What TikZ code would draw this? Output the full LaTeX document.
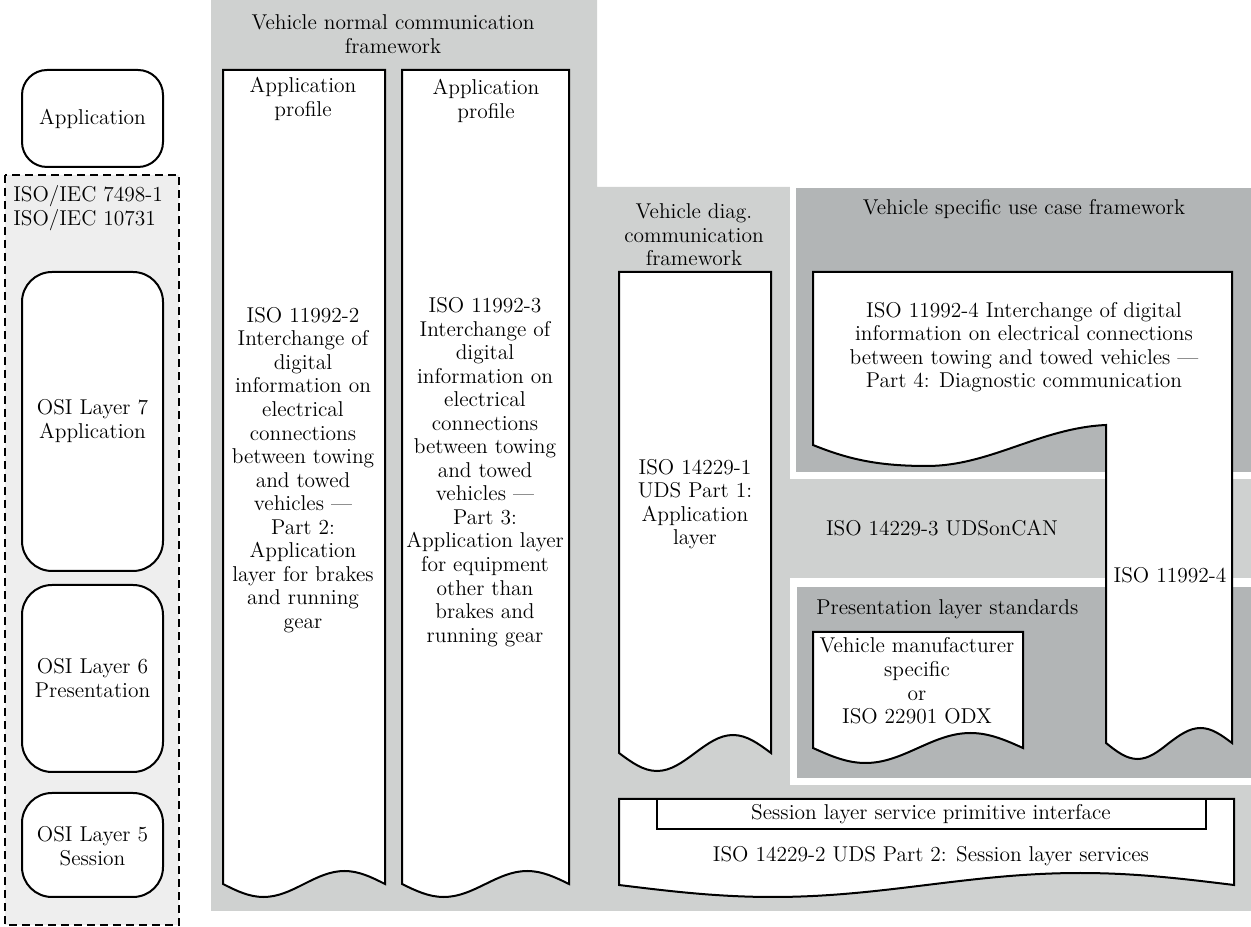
\documentclass[tikz,border=0pt]{standalone}
\usetikzlibrary{calc}
\definecolor{lightgrey}{RGB}{207,209,208}
\definecolor{darkgrey}{RGB}{178,181,182}
\definecolor{paleframe}{RGB}{238,238,238}
\tikzset{
	every node/.style={font=\fontsize{12.2}{13.4}\selectfont, inner sep=0pt, align=center},
	docline/.style={line width=0.4mm, fill=white},
	osibox/.style={line width=0.4mm, fill=white, rounded corners=6mm},
}
% page with a wavy bottom edge: top left, bottom right (base of the wave), amplitude
\def\docshape[#1](#2,#3)(#4,#5)#6{\draw[#1] (#2,#3) -- (#4,#3) -- (#4,#5) sin ({#4-(#4-#2)/4},{#5-#6}) cos ({(#2+#4)/2},#5) sin ({#2+(#4-#2)/4},{#5+#6}) cos (#2,#5) -- cycle;}

\begin{document}
\begin{tikzpicture}[x=0.2mm, y=-0.2mm]
			%%%%% START %%%%%
			\useasboundingbox (0,0) rectangle (1251,927);
			
			% OSI column
			\draw[osibox, rounded corners=5mm] (22,70) rectangle (163,167);
			\node (appbox) at (92.5,118.5) {Application};
			
			\draw[line width=0.25mm, dash pattern=on 1.6mm off 1mm, fill=paleframe] (5,175) rectangle (179,925);
			\node[anchor=west, align=left] (isoiec) at (13,208) {ISO/IEC 7498-1\\ISO/IEC 10731};
			
			\draw[osibox] (22,272) rectangle (163,571);
			\node (osiseven) at (92.5,421) {OSI Layer 7\\Application};
			\draw[osibox] (22,585) rectangle (163,772);
			\node (osisix) at (92.5,678) {OSI Layer 6\\Presentation};
			\draw[osibox] (22,793) rectangle (163,897);
			\node (osifive) at (92.5,846) {OSI Layer 5\\Session};
			
			% frameworks
			\fill[lightgrey] (211,0) -- (597,0) -- (597,187) -- (1251,187) -- (1251,911) -- (211,911) -- cycle;
			\fill[white] (790,182) rectangle (1251,479);
			\fill[darkgrey] (796,188) rectangle (1251,472);
			\fill[white] (790,578) rectangle (1251,785);
			\fill[darkgrey] (797,587) rectangle (1251,778);
			
			\node (normtitle) at (393,34) {Vehicle normal communication\\framework};
			
			\docshape[docline](223,70)(385,884){13}
			\node (profa) at (303,99) {Application\\profile};
			\node (parttwo) at (303,470) {ISO 11992-2\\Interchange of\\digital\\information on\\electrical\\connections\\between towing\\and towed\\vehicles \textemdash\\Part 2:\\Application\\layer for brakes\\and running\\gear};
			
			\docshape[docline](402,70)(569,884){13}
			\node (profb) at (486,101) {Application\\profile};
			\node (partthree) at (485,472) {ISO 11992-3\\Interchange of\\digital\\information on\\electrical\\connections\\between towing\\and towed\\vehicles \textemdash\\Part 3:\\Application layer\\for equipment\\other than\\brakes and\\running gear};
			
			\node (diagtitle) at (694,235) {Vehicle diag.\\communication\\framework};
			\docshape[docline](619,272)(771,753){18}
			\node (udsone) at (695,504) {ISO 14229-1\\UDS Part 1:\\Application\\layer};
			
			\node (usetitle) at (1024,209) {Vehicle specific use case framework};
			\draw[docline] (813,272) -- (1232,272) -- (1232,743) sin (1200.5,728) cos (1169,743) sin (1137.5,759) cos (1106,743) -- (1106,425) .. controls (1040,428) and (990,466) .. (927,466) .. controls (880,466) and (850,460) .. (813,445) -- cycle;
			\node (partfour) at (1024,347) {ISO 11992-4 Interchange of digital\\information on electrical connections\\between towing and towed vehicles \textemdash\\Part 4: Diagnostic communication};
			\node (partfourcol) at (1170,575) {ISO 11992-4};
			
			\node (udsoncan) at (942,528) {ISO 14229-3 UDSonCAN};
			
			\node[anchor=west] (prestitle) at (816,609) {Presentation layer standards};
			\docshape[docline](813,632)(1023,748){15}
			\node (odx) at (917,681) {Vehicle manufacturer\\specific\\or\\ISO 22901 ODX};
			
			% session layer
			\docshape[docline](619,799)(1234,885){12}
			\draw[line width=0.3mm] (657,799) rectangle (1206,829);
			\node (primitive) at (931,814) {Session layer service primitive interface};
			\node (udstwo) at (931,856) {ISO 14229-2 UDS Part 2: Session layer services};
			
			%%%%% END %%%%%
		\end{tikzpicture}
\end{document}
